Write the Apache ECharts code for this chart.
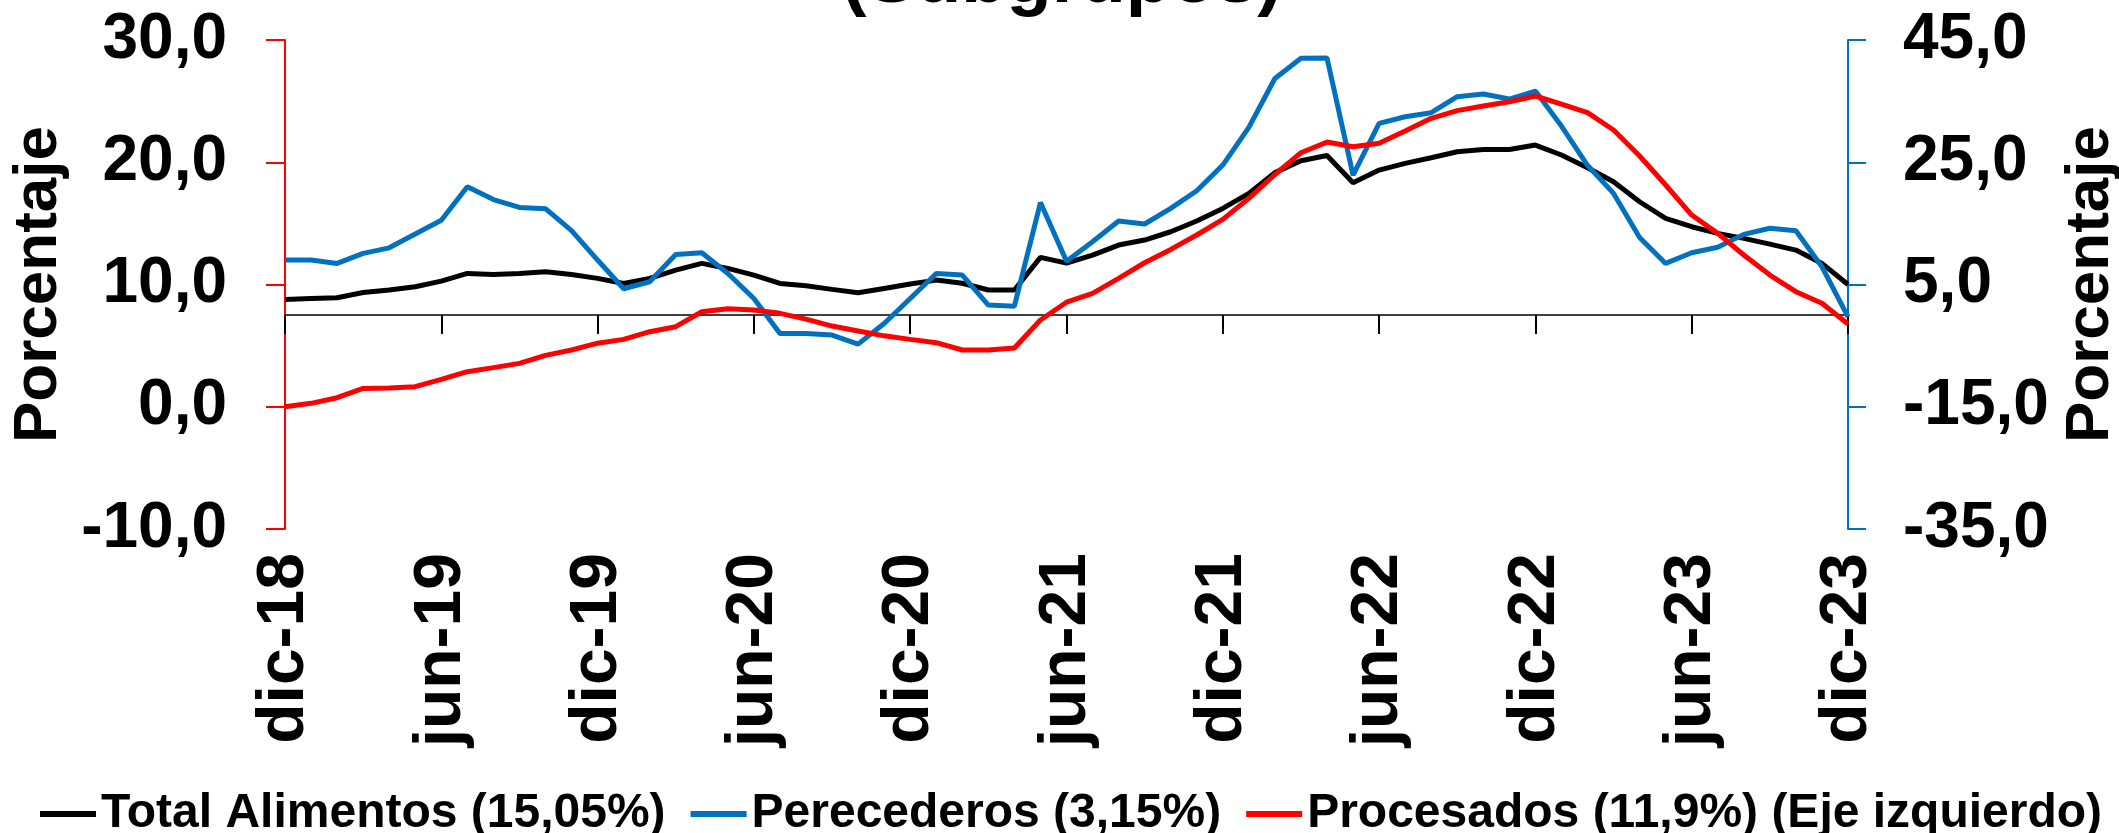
<!DOCTYPE html>
<html>
<head>
<meta charset="utf-8">
<script src="https://cdn.jsdelivr.net/npm/echarts@6/dist/echarts.min.js"></script>
<style>
html,body{margin:0;padding:0;background:#ffffff;}
#chart{width:2119px;height:833px;}
</style>
</head>
<body>
<div id="chart"></div>
<script>
// ---- DATA ----
const categories = [
  'dic-18',
  'ene-19','feb-19','mar-19','abr-19','may-19','jun-19','jul-19','ago-19','sep-19','oct-19','nov-19','dic-19',
  'ene-20','feb-20','mar-20','abr-20','may-20','jun-20','jul-20','ago-20','sep-20','oct-20','nov-20','dic-20',
  'ene-21','feb-21','mar-21','abr-21','may-21','jun-21','jul-21','ago-21','sep-21','oct-21','nov-21','dic-21',
  'ene-22','feb-22','mar-22','abr-22','may-22','jun-22','jul-22','ago-22','sep-22','oct-22','nov-22','dic-22',
  'ene-23','feb-23','mar-23','abr-23','may-23','jun-23','jul-23','ago-23','sep-23','oct-23','nov-23','dic-23'
];

// Total Alimentos (right axis)
const totalAlimentos = [
  2.56, 2.72, 2.83, 3.70, 4.10, 4.63, 5.56, 6.81, 6.65, 6.81,
  7.10, 6.65, 6.00, 5.17, 6.00, 7.36, 8.45, 7.63, 6.54, 5.17,
  4.80, 4.20, 3.65, 4.36, 5.07, 5.72, 5.20, 4.10, 4.10, 9.43,
  8.50, 9.81, 11.45, 12.27, 13.63, 15.38, 17.45, 19.90, 23.30, 25.25,
  26.10, 21.65, 23.72, 24.81, 25.74, 26.72, 27.10, 27.10, 27.81, 26.18,
  24.10, 21.81, 18.54, 15.81, 14.45, 13.36, 12.54, 11.61, 10.63, 8.45, 5.00
];

// Perecederos (right axis)
const perecederos = [
  9.00, 9.00, 8.45, 10.10, 11.00, 13.25, 15.50, 21.00, 18.90, 17.60,
  17.40, 13.80, 9.00, 4.30, 5.45, 9.92, 10.20, 6.81, 2.72, -3.00,
  -3.00, -3.28, -4.75, -1.37, 2.72, 6.81, 6.54, 1.63, 1.46, 18.40,
  8.80, 12.00, 15.40, 14.90, 17.45, 20.34, 24.54, 30.70, 38.70, 42.00,
  42.05, 22.90, 31.36, 32.45, 33.10, 35.73, 36.16, 35.34, 36.65, 30.92,
  24.50, 19.90, 12.70, 8.45, 10.20, 11.10, 13.20, 14.20, 13.80, 7.90, -0.30
];

// Procesados (left axis)
const procesados = [
  0.00, 0.28, 0.74, 1.50, 1.53, 1.64, 2.24, 2.87, 3.20, 3.55,
  4.20, 4.64, 5.20, 5.51, 6.14, 6.55, 7.77, 8.02, 7.91, 7.64,
  7.17, 6.60, 6.20, 5.80, 5.51, 5.24, 4.64, 4.64, 4.80, 7.10,
  8.55, 9.27, 10.50, 11.78, 12.87, 14.05, 15.33, 17.05, 19.00, 20.78,
  21.65, 21.27, 21.55, 22.56, 23.59, 24.22, 24.60, 24.95, 25.42, 24.76,
  24.06, 22.64, 20.51, 18.14, 15.68, 14.18, 12.41, 10.77, 9.41, 8.46, 6.77
];

const seriesNames = ['Total Alimentos (15,05%)', 'Perecederos (3,15%)', 'Procesados (11,9%) (Eje izquierdo)'];
const titleText = '(Subgrupos)';
const axisName = 'Porcentaje';
const leftAxisRange = [-10, 30, 10];   // min, max, interval
const rightAxisRange = [-35, 45, 20];  // min, max, interval

// ---- CHART ----
const FONT = "'Liberation Sans', Arial, Helvetica, sans-serif";
const fmt = v => v.toFixed(1).replace('.', ',');
const chart = echarts.init(document.getElementById('chart'), null, {renderer: 'canvas'});

const option = {
  animation: false,
  backgroundColor: '#ffffff',
  textStyle: {fontFamily: FONT},
  graphic: [{
    type: 'text',
    x: 1062,
    y: -18,
    style: {
      text: titleText,
      fontSize: 74,
      fontWeight: 'bold',
      fontFamily: FONT,
      fill: '#000000',
      align: 'center',
      verticalAlign: 'middle'
    }
  }],
  legend: {
    left: 35,
    top: 785,
    icon: 'rect',
    itemWidth: 56,
    itemHeight: 6,
    itemGap: 25,
    textStyle: {fontSize: 48, fontWeight: 'bold', color: '#000000', fontFamily: FONT},
    data: seriesNames
  },
  grid: {left: 285, right: 271, top: 40, bottom: 304, containLabel: false, outerBoundsMode: 'none'},
  xAxis: [
    {
      type: 'category',
      data: categories,
      boundaryGap: false,
      axisLine: {show: true, onZero: true, onZeroAxisIndex: 1, lineStyle: {color: '#404040', width: 2}},
      axisTick: {show: true, interval: 5, length: 19, lineStyle: {color: '#000000', width: 2}},
      axisLabel: {show: false},
      splitLine: {show: false}
    },
    {
      type: 'category',
      data: categories,
      boundaryGap: false,
      position: 'bottom',
      axisLine: {show: false, onZero: false},
      axisTick: {show: false},
      splitLine: {show: false},
      axisLabel: {
        interval: 5,
        rotate: 90,
        margin: 24,
        fontSize: 66,
        fontWeight: 'bold',
        color: '#000000',
        fontFamily: FONT
      }
    }
  ],
  yAxis: [
    {
      type: 'value',
      position: 'left',
      min: leftAxisRange[0], max: leftAxisRange[1], interval: leftAxisRange[2],
      name: axisName,
      nameLocation: 'middle',
      nameRotate: 90,
      nameGap: 205,
      nameTextStyle: {fontSize: 62, fontWeight: 'bold', color: '#000000', fontFamily: FONT},
      axisLine: {show: true, onZero: false, lineStyle: {color: '#FF0000', width: 2}},
      axisTick: {show: true, length: 19, lineStyle: {color: '#FF0000', width: 2}},
      axisLabel: {formatter: fmt, margin: 58, fontSize: 64, fontWeight: 'bold', color: '#000000', fontFamily: FONT},
      splitLine: {show: false}
    },
    {
      type: 'value',
      position: 'right',
      min: rightAxisRange[0], max: rightAxisRange[1], interval: rightAxisRange[2],
      name: axisName,
      nameLocation: 'middle',
      nameRotate: 90,
      nameGap: 205,
      nameTextStyle: {fontSize: 62, fontWeight: 'bold', color: '#000000', fontFamily: FONT},
      axisLine: {show: true, onZero: false, lineStyle: {color: '#0070C0', width: 2}},
      axisTick: {show: true, length: 18, lineStyle: {color: '#0070C0', width: 2}},
      axisLabel: {formatter: fmt, margin: 55, fontSize: 64, fontWeight: 'bold', color: '#000000', fontFamily: FONT},
      splitLine: {show: false}
    }
  ],
  series: [
    {
      name: seriesNames[0], type: 'line', xAxisIndex: 0, yAxisIndex: 1,
      data: totalAlimentos, symbol: 'none', showSymbol: false,
      lineStyle: {color: '#000000', width: 5}, itemStyle: {color: '#000000'}
    },
    {
      name: seriesNames[1], type: 'line', xAxisIndex: 0, yAxisIndex: 1,
      data: perecederos, symbol: 'none', showSymbol: false,
      lineStyle: {color: '#0070C0', width: 5}, itemStyle: {color: '#0070C0'}
    },
    {
      name: seriesNames[2], type: 'line', xAxisIndex: 0, yAxisIndex: 0,
      data: procesados, symbol: 'none', showSymbol: false,
      lineStyle: {color: '#FF0000', width: 5}, itemStyle: {color: '#FF0000'}
    }
  ]
};
chart.setOption(option);
</script>
</body>
</html>
